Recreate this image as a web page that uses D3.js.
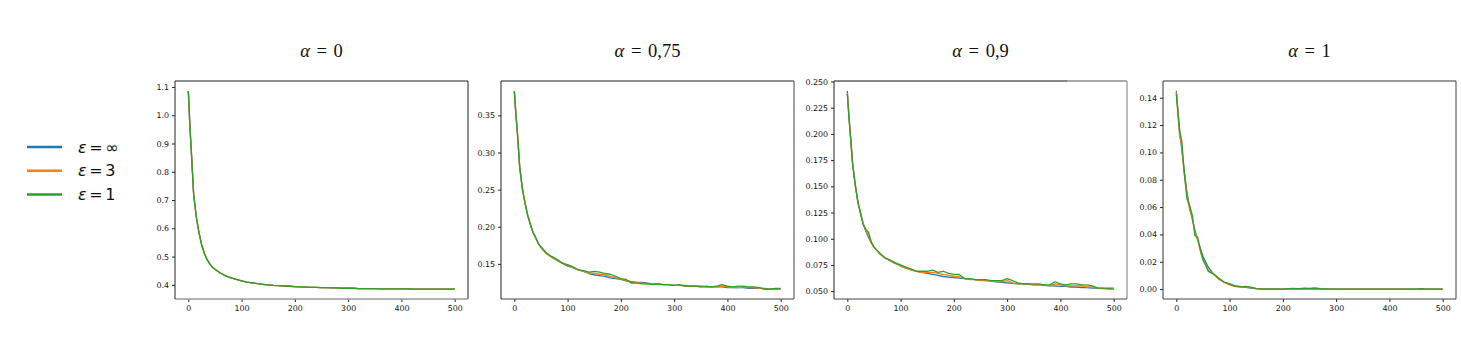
<!DOCTYPE html>
<html>
<head>
<meta charset="utf-8">
<script src="https://cdn.jsdelivr.net/npm/d3@7/dist/d3.min.js"></script>
<style>
  body { margin: 0; background: #fff; }
  .tick text { font-family: "DejaVu Sans", sans-serif; font-size: 7.9px; fill: #111; }
  .tick line { stroke: #222; }
</style>
</head>
<body>
<svg id="chart" width="1461" height="345"></svg>
<script>
// epochs sampled from the curves (denser at the start where they drop fast)
const epochs = [0, 3, 6, 10, 15, 20, 25, 30, 35, 40, 45, 50,
  60, 70, 80, 90, 100, 110, 120, 130, 140, 150, 160, 170, 180, 190, 200,
  210, 220, 230, 240, 250, 260, 270, 280, 290, 300, 310, 320, 330, 340, 350,
  360, 370, 380, 390, 400, 410, 420, 430, 440, 450, 460, 470, 480, 490, 500]

const seriesNames = ['ε = ∞', 'ε = 3', 'ε = 1']
const seriesColors = ['#1f77b4', '#ff7f0e', '#2ca02c']
const panelTitles = ['0', '0,75', '0,9', '1']

// alpha = 0 : the three runs lie on top of each other
const lossA0 = [1.086, 0.96, 0.86, 0.72, 0.64, 0.585, 0.542, 0.512, 0.49, 0.475, 0.463, 0.455,
  0.442, 0.432, 0.425, 0.419, 0.414, 0.410, 0.407, 0.404, 0.402, 0.400, 0.398, 0.397, 0.396, 0.395, 0.394,
  0.393, 0.392, 0.391, 0.391, 0.390, 0.390, 0.389, 0.389, 0.388, 0.388, 0.388, 0.387, 0.387, 0.387, 0.387,
  0.386, 0.386, 0.386, 0.386, 0.386, 0.386, 0.385, 0.385, 0.385, 0.385, 0.385, 0.385, 0.385, 0.385, 0.385]

// alpha = 0.75
const lossA75Inf = [0.383, 0.352, 0.325, 0.282, 0.252, 0.232, 0.216, 0.203, 0.193, 0.185, 0.178, 0.172,
  0.164, 0.159, 0.155, 0.151, 0.147, 0.145, 0.142, 0.140, 0.137, 0.135, 0.134, 0.133, 0.131, 0.130, 0.129,
  0.127, 0.126, 0.125, 0.125, 0.124, 0.123, 0.123, 0.122, 0.122, 0.121, 0.121, 0.121, 0.120, 0.120, 0.120,
  0.119, 0.119, 0.119, 0.119, 0.118, 0.118, 0.118, 0.118, 0.117, 0.117, 0.117, 0.117, 0.116, 0.116, 0.116]
const lossA75Eps3 = [0.383, 0.351, 0.325, 0.282, 0.252, 0.232, 0.216, 0.203, 0.193, 0.185, 0.178, 0.172,
  0.164, 0.159, 0.155, 0.151, 0.148, 0.145, 0.142, 0.140, 0.138, 0.137, 0.136, 0.135, 0.133, 0.131, 0.129,
  0.128, 0.125, 0.125, 0.124, 0.123, 0.123, 0.122, 0.122, 0.122, 0.121, 0.121, 0.120, 0.120, 0.120, 0.119,
  0.119, 0.119, 0.119, 0.120, 0.119, 0.118, 0.118, 0.119, 0.118, 0.118, 0.117, 0.116, 0.116, 0.116, 0.116]
const lossA75Eps1 = [0.382, 0.350, 0.324, 0.281, 0.251, 0.233, 0.215, 0.204, 0.192, 0.186, 0.177, 0.173,
  0.165, 0.160, 0.156, 0.151, 0.149, 0.146, 0.142, 0.141, 0.139, 0.140, 0.139, 0.137, 0.136, 0.133, 0.130,
  0.129, 0.124, 0.124, 0.123, 0.123, 0.122, 0.123, 0.122, 0.122, 0.121, 0.122, 0.120, 0.120, 0.120, 0.119,
  0.120, 0.119, 0.120, 0.122, 0.120, 0.119, 0.120, 0.120, 0.119, 0.119, 0.118, 0.116, 0.116, 0.117, 0.117]

// alpha = 0.9
const lossA90Inf = [0.241, 0.218, 0.198, 0.172, 0.150, 0.135, 0.123, 0.114, 0.107, 0.101, 0.096, 0.092,
  0.086, 0.082, 0.079, 0.0765, 0.074, 0.072, 0.0705, 0.069, 0.068, 0.067, 0.066, 0.065, 0.064, 0.0635, 0.063,
  0.0625, 0.062, 0.0615, 0.061, 0.0605, 0.060, 0.0595, 0.059, 0.0585, 0.058, 0.0575, 0.057, 0.057, 0.0565, 0.056,
  0.056, 0.0555, 0.055, 0.055, 0.0545, 0.0545, 0.054, 0.054, 0.0535, 0.0535, 0.053, 0.053, 0.0525, 0.0525, 0.052]
const lossA90Eps3 = [0.239, 0.217, 0.198, 0.171, 0.151, 0.135, 0.124, 0.114, 0.108, 0.103, 0.096, 0.092,
  0.086, 0.082, 0.079, 0.077, 0.074, 0.072, 0.070, 0.069, 0.068, 0.068, 0.068, 0.067, 0.066, 0.065, 0.064,
  0.064, 0.062, 0.061, 0.061, 0.060, 0.060, 0.060, 0.059, 0.059, 0.060, 0.058, 0.057, 0.057, 0.057, 0.056,
  0.056, 0.056, 0.055, 0.057, 0.056, 0.055, 0.055, 0.055, 0.055, 0.054, 0.054, 0.053, 0.053, 0.052, 0.052]
const lossA90Eps1 = [0.238, 0.215, 0.197, 0.170, 0.152, 0.134, 0.125, 0.113, 0.109, 0.106, 0.097, 0.092,
  0.087, 0.082, 0.080, 0.077, 0.075, 0.073, 0.071, 0.069, 0.069, 0.069, 0.070, 0.068, 0.069, 0.067, 0.066,
  0.066, 0.062, 0.062, 0.061, 0.061, 0.061, 0.060, 0.060, 0.060, 0.062, 0.060, 0.058, 0.057, 0.057, 0.057,
  0.057, 0.056, 0.056, 0.059, 0.057, 0.056, 0.057, 0.057, 0.056, 0.056, 0.055, 0.053, 0.053, 0.053, 0.053]

// alpha = 1
const lossA1Inf = [0.145, 0.131, 0.117, 0.103, 0.086, 0.071, 0.060, 0.051, 0.043, 0.036, 0.030, 0.024,
  0.016, 0.011, 0.0075, 0.005, 0.0035, 0.0025, 0.0018, 0.0012, 0.0008, 0.0005, 0.0003, 0.0002, 0.0001, 0.0001, 0,
  0, 0, 0, 0, 0, 0, 0, 0, 0, 0, 0, 0, 0, 0, 0,
  0, 0, 0, 0, 0, 0, 0, 0, 0, 0, 0, 0, 0, 0, 0]
const lossA1Eps3 = [0.144, 0.130, 0.112, 0.106, 0.084, 0.069, 0.058, 0.053, 0.041, 0.036, 0.028, 0.021,
  0.014, 0.011, 0.007, 0.005, 0.003, 0.002, 0.002, 0.0015, 0.001, 0.0003, 0, 0, 0, 0, 0,
  0, 0, 0, 0, 0, 0, 0, 0, 0, 0, 0, 0, 0, 0, 0,
  0, 0, 0, 0, 0, 0, 0, 0, 0, 0, 0, 0, 0, 0, 0]
const lossA1Eps1 = [0.143, 0.128, 0.116, 0.109, 0.085, 0.066, 0.061, 0.054, 0.039, 0.038, 0.029, 0.022,
  0.013, 0.011, 0.008, 0.005, 0.004, 0.002, 0.0015, 0.002, 0.0015, 0.0002, 0, 0, 0, 0, 0,
  0.0003, 0.0005, 0.0004, 0.0006, 0.0005, 0.0008, 0.0003, 0.0002, 0, 0, 0, 0, 0, 0, 0,
  0, 0, 0, 0, 0, 0, 0, 0, 0, 0, 0.0003, 0, 0, 0, 0]

const panelSeries = [
  [lossA0, lossA0, lossA0],
  [lossA75Inf, lossA75Eps3, lossA75Eps1],
  [lossA90Inf, lossA90Eps3, lossA90Eps1],
  [lossA1Inf, lossA1Eps3, lossA1Eps1],
]

const xTicks = [0, 100, 200, 300, 400, 500]
const yTicks = [
  [0.4, 0.5, 0.6, 0.7, 0.8, 0.9, 1.0, 1.1],
  [0.15, 0.20, 0.25, 0.30, 0.35],
  [0.050, 0.075, 0.100, 0.125, 0.150, 0.175, 0.200, 0.225, 0.250],
  [0.00, 0.02, 0.04, 0.06, 0.08, 0.10, 0.12, 0.14],
]
const yFormats = ['.1f', '.2f', '.3f', '.2f']

// layout of the four axes boxes
const panelLeft = [175, 501, 834, 1163]
const panelWidth = 293
const panelTop = 81
const panelHeight = 218

// spine colours (the source image has a few greyed-out edges)
const spineColors = [
  { top: '#222', right: '#222', bottom: '#999', left: '#222' },
  { top: '#222', right: '#444', bottom: '#444', left: '#222' },
  { top: '#111', right: '#aaa', bottom: '#444', left: '#222' },
  { top: '#333', right: '#444', bottom: '#444', left: '#333' },
]

const svg = d3.select('#chart')

// NOTE: matplotlib-like 5% margins around the data
const padDomain = (lo, hi) => {
  const m = (hi - lo) * 0.05
  return [lo - m, hi + m]
}

panelSeries.forEach((series, i) => {
  const g = svg.append('g').attr('transform', `translate(${panelLeft[i]},${panelTop})`)

  const x = d3.scaleLinear()
    .domain(padDomain(0, d3.max(epochs)))
    .range([0, panelWidth])
  const allVals = series.flat()
  const y = d3.scaleLinear()
    .domain(padDomain(d3.min(allVals), d3.max(allVals)))
    .range([panelHeight, 0])

  // NOTE: axes
  g.append('g')
    .attr('transform', `translate(0,${panelHeight})`)
    .call(d3.axisBottom(x).tickValues(xTicks).tickSize(3).tickPadding(3).tickFormat(d3.format('d')))
    .call(a => a.select('.domain').remove())

  g.append('g')
    .call(d3.axisLeft(y).tickValues(yTicks[i]).tickSize(3).tickPadding(3).tickFormat(d3.format(yFormats[i])))
    .call(a => a.select('.domain').remove())

  // NOTE: curves, green drawn last so it sits on top
  const line = d3.line()
    .x((d, k) => x(epochs[k]))
    .y(d => y(d))

  series.forEach((vals, s) => {
    g.append('path')
      .datum(vals)
      .attr('fill', 'none')
      .attr('stroke', seriesColors[s])
      .attr('stroke-width', 1.3)
      .attr('stroke-linejoin', 'round')
      .attr('d', line)
  })

  // NOTE: frame, side by side
  const sc = spineColors[i]
  const sides = [
    { k: 'top', x1: 0, y1: 0, x2: panelWidth, y2: 0 },
    { k: 'right', x1: panelWidth, y1: 0, x2: panelWidth, y2: panelHeight },
    { k: 'bottom', x1: 0, y1: panelHeight, x2: panelWidth, y2: panelHeight },
    { k: 'left', x1: 0, y1: 0, x2: 0, y2: panelHeight },
  ]
  g.selectAll('line.spine')
    .data(sides)
    .join('line')
    .attr('class', 'spine')
    .attr('x1', d => d.x1).attr('y1', d => d.y1)
    .attr('x2', d => d.x2).attr('y2', d => d.y2)
    .attr('stroke', d => sc[d.k])
    .attr('stroke-width', d => (sc[d.k] === '#999' || sc[d.k] === '#aaa') ? 1.6 : 1)
  if (i === 2) {
    // the last bit of the top edge fades to grey in the source
    g.append('line')
      .attr('x1', 233).attr('x2', panelWidth)
      .attr('y1', 0).attr('y2', 0)
      .attr('stroke', '#ccc')
      .attr('stroke-width', 1.2)
  }

  // NOTE: title
  const title = svg.append('text')
    .attr('x', panelLeft[i] + panelWidth / 2)
    .attr('y', 57)
    .attr('text-anchor', 'middle')
    .style('font-family', '"Liberation Serif", serif')
    .style('font-size', '18.5px')
    .style('word-spacing', '2px')
    .style('fill', '#111')
  title.append('tspan').style('font-style', 'italic').text('α')
  title.append('tspan').text(` = ${panelTitles[i]}`)
})

// NOTE: legend on the left
const legend = svg.append('g').attr('transform', 'translate(27,147)')
seriesNames.forEach((name, s) => {
  const row = legend.append('g').attr('transform', `translate(0,${s * 23.7})`)
  row.append('line')
    .attr('x1', 0).attr('x2', 35)
    .attr('stroke', seriesColors[s])
    .attr('stroke-width', 2.5)
  const t = row.append('text')
    .attr('x', 51)
    .attr('y', 5.5)
    .style('font-family', '"DejaVu Sans", sans-serif')
    .style('font-size', '16px')
    .style('word-spacing', '-2.5px')
    .style('fill', '#111')
  t.append('tspan').style('font-style', 'italic').text(name.slice(0, 1))
  t.append('tspan').text(name.slice(1))
})
</script>
</body>
</html>
